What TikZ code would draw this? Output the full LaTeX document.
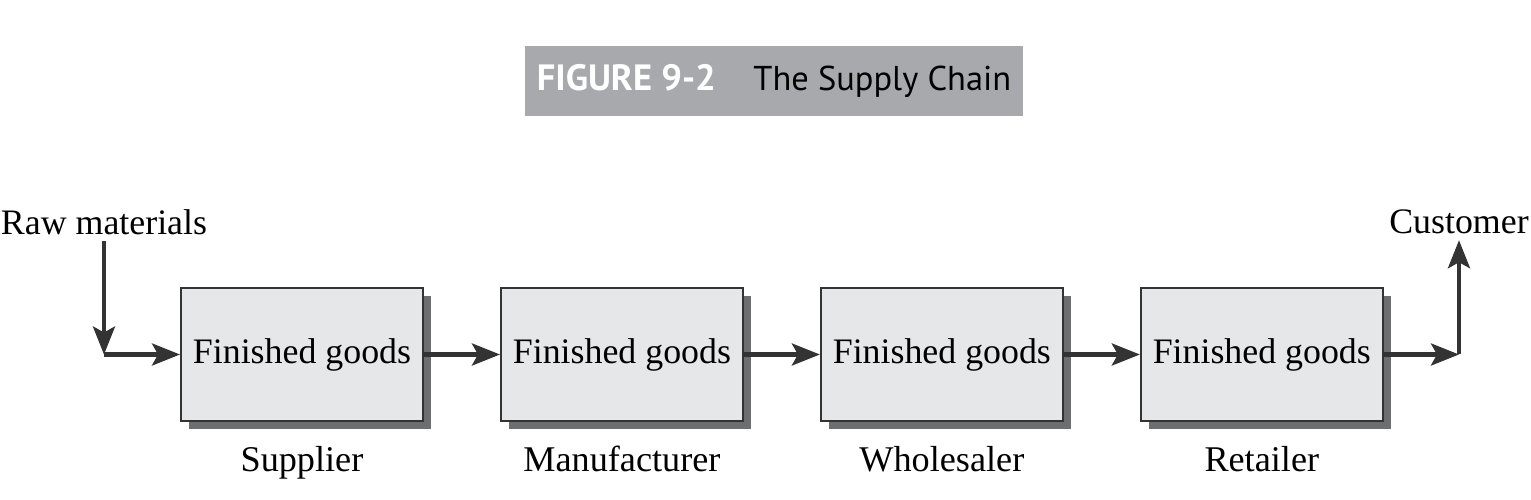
\documentclass[tikz,border=0pt]{standalone}
\usepackage{fontspec}
\setmainfont{Liberation Serif}
\newfontfamily\titlefont{PT Sans}
\usetikzlibrary{arrows.meta,positioning,shadows}

\definecolor{boxgray}{HTML}{E6E7E8}
\definecolor{shadowgray}{HTML}{6D6E70}
\definecolor{linegray}{HTML}{333333}
\definecolor{bargray}{HTML}{A7A9AC}

\begin{document}
\begin{tikzpicture}[
    stage/.style={rectangle, draw=linegray, line width=1.1pt, fill=boxgray, minimum width=4.84cm, minimum height=2.66cm, font=\fontsize{20.4}{25}\selectfont, drop shadow={shadow xshift=0.16cm, shadow yshift=-0.16cm, fill=shadowgray, opacity=1}},
    role/.style={inner sep=0pt, font=\fontsize{20.6}{25}\selectfont},
    flow/.style={-{Stealth[length=0.56cm, width=0.44cm, inset=0.12cm]}, line width=2.3pt, draw=linegray}
]
\useasboundingbox (0,0) rectangle (30.62,-10);

% Title bar
\node[fill=bargray, minimum width=9.96cm, minimum height=1.4cm, font=\titlefont\fontsize{20.8}{25}\selectfont] (title) at (15.48,-1.62) {\textcolor{white}{\bfseries FIGURE 9-2}\hspace{0.75cm}{\fontsize{19.6}{25}\selectfont The Supply Chain}};

% Stages
\node[stage] (supplier) at (6.04,-7.09) {Finished goods};
\node[stage, right=1.52cm of supplier] (manufacturer) {Finished goods};
\node[stage, right=1.52cm of manufacturer] (wholesaler) {Finished goods};
\node[stage, right=1.52cm of wholesaler] (retailer) {Finished goods};

% Stage names
\node[role, below=0.48cm of supplier] (l1) {Supplier};
\node[role, below=0.48cm of manufacturer] (l2) {Manufacturer};
\node[role, below=0.48cm of wholesaler] (l3) {Wholesaler};
\node[role, below=0.48cm of retailer] (l4) {Retailer};

% Ends
\node[font=\fontsize{20.4}{25}\selectfont] (raw) at (2.08,-4.44) {Raw materials};
\node[font=\fontsize{20.4}{25}\selectfont] (customer) at (29.18,-4.44) {Customer};
\coordinate (rawcorner) at (2.08,-7.09);
\coordinate (custcorner) at (29.18,-7.09);

% Flow
\draw[flow] (raw.south) -- (rawcorner);
\draw[flow] (rawcorner) -- (supplier);
\draw[flow] (supplier) -- (manufacturer);
\draw[flow] (manufacturer) -- (wholesaler);
\draw[flow] (wholesaler) -- (retailer);
\draw[flow] (retailer) -- (custcorner);
\draw[flow] (custcorner) -- (customer.south);

\end{tikzpicture}
\end{document}
